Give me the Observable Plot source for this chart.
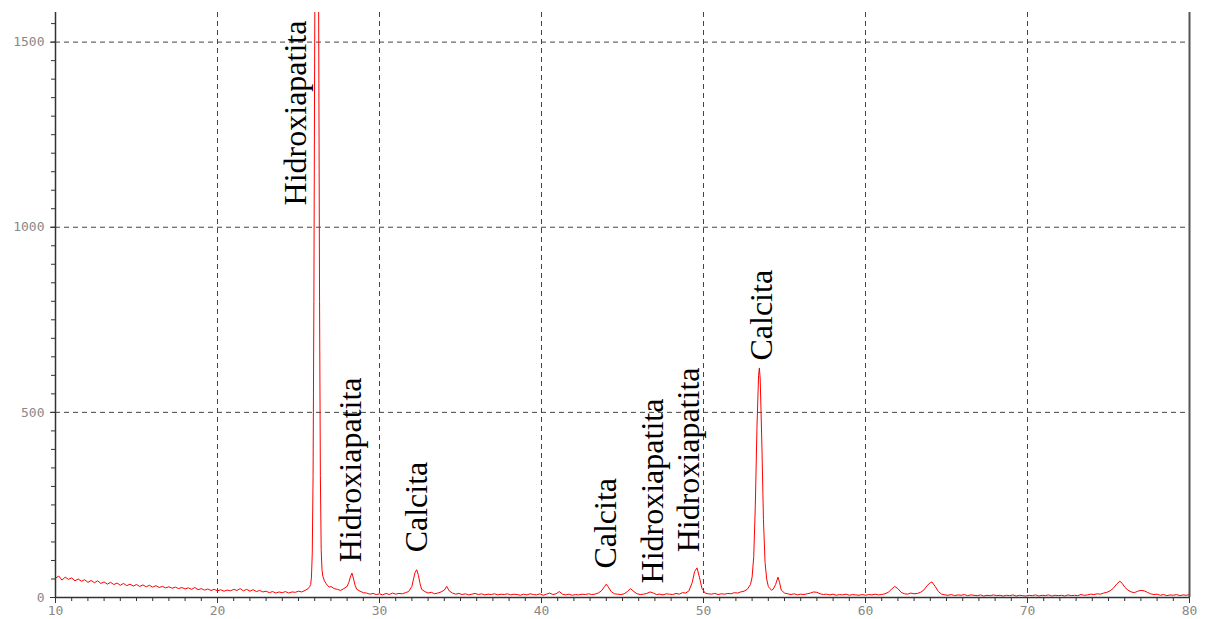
<!DOCTYPE html>
<html>
<head>
<meta charset="utf-8">
<script src="https://cdn.jsdelivr.net/npm/d3@7"></script>
<script src="https://cdn.jsdelivr.net/npm/@observablehq/plot@0.6"></script>
<style>
  html, body { margin: 0; padding: 0; background: #fff; }
  #chart svg { display: block; }
</style>
</head>
<body>
<div id="chart"></div>
<script>
// 2θ (degrees) and intensity (counts), in segments
const scan10to26 = [
  [10.0,52],[10.2,58],[10.4,47],[10.6,55],[10.8,49],[11.0,53],[11.2,45],[11.4,50],[11.6,44],[11.8,48],
  [12.0,41],[12.2,46],[12.4,40],[12.6,45],[12.8,38],[13.0,42],[13.2,36],[13.4,41],[13.6,35],[13.8,39],
  [14.0,33],[14.2,38],[14.4,32],[14.6,36],[14.8,31],[15.0,35],[15.2,30],[15.4,34],[15.6,29],[15.8,33],
  [16.0,28],[16.2,32],[16.4,27],[16.6,30],[16.8,26],[17.0,29],[17.2,25],[17.4,28],[17.6,24],[17.8,27],
  [18.0,23],[18.2,26],[18.4,22],[18.6,27],[18.8,21],[19.0,24],[19.2,20],[19.4,23],[19.6,19],[19.8,22],
  [20.0,18],[20.2,21],[20.4,17],[20.6,20],[20.8,18],[21.0,22],[21.2,19],[21.4,24],[21.6,18],[21.8,22],
  [22.0,17],[22.2,21],[22.4,16],[22.6,19],[22.8,15],[23.0,17],[23.2,13],[23.4,16],[23.6,12],[23.8,15],
  [24.0,13],[24.2,16],[24.4,12],[24.6,15],[24.8,14],[25.0,17],[25.2,15],[25.4,19],[25.6,24],[25.7,30]
];
const peakMain = [
  [25.75,35],[25.8,55],[25.85,120],[25.9,330],[25.95,800],[26.0,1500],[26.05,2100],[26.1,2400],
  [26.15,2450],[26.2,2200],[26.25,1500],[26.3,800],[26.35,330],[26.4,130],[26.45,75],[26.5,58],
  [26.6,45],[26.7,38],[26.8,32],[26.9,28]
];
const scan27to53 = [
  [27.0,30],[27.2,24],[27.4,22],[27.6,19],[27.8,24],[28.0,30],[28.1,40],[28.2,55],[28.3,66],[28.4,50],
  [28.5,32],[28.6,22],[28.8,17],[29.0,13],[29.2,12],[29.4,9],[29.6,11],[29.8,8],[30.0,10],[30.2,7],
  [30.4,11],[30.6,8],[30.8,12],[31.0,9],[31.2,11],[31.4,10],[31.6,13],[31.8,16],[32.0,30],[32.1,50],
  [32.2,68],[32.3,75],[32.4,60],[32.5,38],[32.6,22],[32.8,16],[33.0,12],[33.2,14],[33.4,10],[33.6,12],
  [33.8,15],[34.0,20],[34.15,30],[34.3,18],[34.5,12],[34.7,9],[34.9,11],[35.1,8],[35.3,10],[35.5,7],
  [35.7,9],[35.9,11],[36.1,8],[36.3,10],[36.5,7],[36.7,9],[36.9,8],[37.1,10],[37.3,7],[37.5,9],
  [37.7,8],[37.9,10],[38.1,7],[38.3,9],[38.5,8],[38.7,6],[38.9,9],[39.1,7],[39.3,10],[39.5,8],
  [39.7,7],[39.9,10],[40.1,6],[40.3,9],[40.5,12],[40.7,8],[40.9,10],[41.1,16],[41.3,9],[41.5,7],
  [41.7,9],[41.9,6],[42.1,8],[42.3,7],[42.5,9],[42.7,8],[42.9,10],[43.1,8],[43.3,9],[43.5,12],
  [43.7,18],[43.9,30],[44.0,36],[44.1,30],[44.3,16],[44.5,10],[44.7,9],[44.9,8],[45.1,10],[45.3,16],
  [45.5,24],[45.7,16],[45.9,10],[46.1,8],[46.3,9],[46.5,11],[46.7,15],[46.9,12],[47.1,8],[47.3,9],
  [47.5,7],[47.7,10],[47.9,9],[48.1,8],[48.3,11],[48.5,9],[48.7,13],[48.9,12],[49.1,18],[49.3,40],
  [49.45,70],[49.6,80],[49.75,55],[49.9,25],[50.1,12],[50.3,10],[50.5,9],[50.7,11],[50.9,8],[51.1,10],
  [51.3,9],[51.5,11],[51.7,10],[51.9,13],[52.1,12],[52.3,15],[52.5,17],[52.7,22],[52.9,35]
];
const peakCalcite = [
  [53.0,55],[53.1,110],[53.2,250],[53.3,460],[53.4,600],[53.45,620],[53.5,590],[53.6,420],[53.7,210],
  [53.8,95],[53.9,50],[54.0,30],[54.1,24],[54.2,20],[54.3,22],[54.45,35],[54.6,55],[54.7,40],[54.8,20]
];
const scan55to80 = [
  [55.0,12],[55.2,10],[55.4,8],[55.6,10],[55.8,7],[56.0,9],[56.2,8],[56.4,10],[56.6,12],[56.8,15],
  [57.0,14],[57.2,10],[57.4,8],[57.6,9],[57.8,7],[58.0,9],[58.2,6],[58.4,8],[58.6,7],[58.8,9],
  [59.0,6],[59.2,8],[59.4,7],[59.6,6],[59.8,8],[60.0,6],[60.2,8],[60.4,7],[60.6,9],[60.8,7],
  [61.0,8],[61.2,10],[61.4,14],[61.6,22],[61.8,30],[62.0,24],[62.2,14],[62.4,10],[62.6,9],[62.8,12],
  [63.0,10],[63.2,11],[63.4,14],[63.6,20],[63.8,32],[64.0,40],[64.1,42],[64.3,30],[64.5,16],[64.7,9],
  [64.9,7],[65.1,6],[65.3,8],[65.5,5],[65.7,7],[65.9,6],[66.1,8],[66.3,5],[66.5,7],[66.7,6],
  [66.9,5],[67.1,7],[67.3,4],[67.5,6],[67.7,5],[67.9,7],[68.1,5],[68.3,6],[68.5,4],[68.7,6],
  [68.9,5],[69.1,7],[69.3,4],[69.5,6],[69.7,5],[69.9,4],[70.1,6],[70.3,5],[70.5,7],[70.7,4],
  [70.9,6],[71.1,5],[71.3,7],[71.5,4],[71.7,6],[71.9,5],[72.1,6],[72.3,4],[72.5,7],[72.7,5],
  [72.9,6],[73.1,5],[73.3,8],[73.5,6],[73.7,7],[73.9,9],[74.1,8],[74.3,10],[74.5,9],[74.7,12],
  [74.9,14],[75.1,18],[75.3,25],[75.5,36],[75.7,44],[75.85,38],[76.0,28],[76.2,20],[76.4,15],[76.6,13],
  [76.8,17],[77.0,19],[77.2,18],[77.4,14],[77.6,10],[77.8,8],[78.0,9],[78.2,6],[78.4,8],[78.6,5],
  [78.8,7],[79.0,6],[79.2,8],[79.4,5],[79.6,7],[79.8,6],[80.0,8]
];

// phase annotations: 2θ, intensity at label start, name
const labelNames = ["Hidroxiapatita","Hidroxiapatita","Calcita","Calcita","Hidroxiapatita","Hidroxiapatita","Calcita"];
const labelTheta = [24.8, 28.2, 32.3, 43.95, 46.85, 49.1, 53.6];
const labelCounts = [1059, 95, 122, 78, 38, 122, 640];

// axes
const xLabelTicks = [10, 20, 30, 40, 50, 60, 70, 80];
const xGridTicks = [20, 30, 40, 50, 60, 70];
const yLabelTicks = [0, 500, 1000, 1500];
const yGridTicks = [500, 1000, 1500];
const xMinorTicks = d3.range(10, 81, 1);
const yMinorTicks = d3.range(0, 1581, 50);

const scan = [...scan10to26, ...peakMain, ...scan27to53, ...peakCalcite, ...scan55to80]
  .map(([t, c]) => ({t, c}));
const labels = labelNames.map((name, i) => ({name, t: labelTheta[i], c: labelCounts[i]}));

const tickFont = "DejaVu Sans Mono, monospace";
const plain = d => String(d);

const chart = Plot.plot({
  width: 1206,
  height: 619,
  marginLeft: 55,
  marginRight: 17,
  marginTop: 12,
  marginBottom: 22,
  style: {background: "#fff", fontFamily: tickFont, fontSize: "13px"},
  x: {domain: [10, 80], label: null},
  y: {domain: [0, 1580], label: null},
  marks: [
    Plot.ruleX(xGridTicks, {stroke: "#444", strokeWidth: 1, strokeDasharray: "5,4"}),
    Plot.ruleY(yGridTicks, {stroke: "#444", strokeWidth: 1, strokeDasharray: "5,4"}),
    Plot.line(scan, {x: "t", y: "c", stroke: "#ff0000", strokeWidth: 1, clip: true}),
    Plot.ruleX([10], {stroke: "#333", strokeWidth: 1.5}),
    Plot.ruleX([80], {stroke: "#555", strokeWidth: 2}),
    Plot.ruleY([0], {stroke: "#333", strokeWidth: 1.5}),
    Plot.axisX(xMinorTicks, {tickSize: 4, tickFormat: () => "", stroke: "#333", label: null}),
    Plot.axisX(xLabelTicks, {tickSize: 6, tickPadding: 2, tickFormat: plain, fill: "#888", stroke: "#333", fontFamily: tickFont, fontSize: 13, label: null}),
    Plot.axisY(yMinorTicks, {tickSize: 4, tickFormat: () => "", stroke: "#333", label: null}),
    Plot.axisY(yLabelTicks, {tickSize: 5, tickPadding: 6, tickFormat: plain, fill: "#888", stroke: "#333", fontFamily: tickFont, fontSize: 13, label: null}),
    Plot.text(labels, {
      x: "t", y: "c", text: "name", rotate: -90,
      textAnchor: "start", lineAnchor: "middle",
      fontFamily: "Liberation Serif, Times New Roman, serif", fontSize: 32, fill: "#000"
    })
  ]
});
document.getElementById("chart").appendChild(chart);
</script>
</body>
</html>
